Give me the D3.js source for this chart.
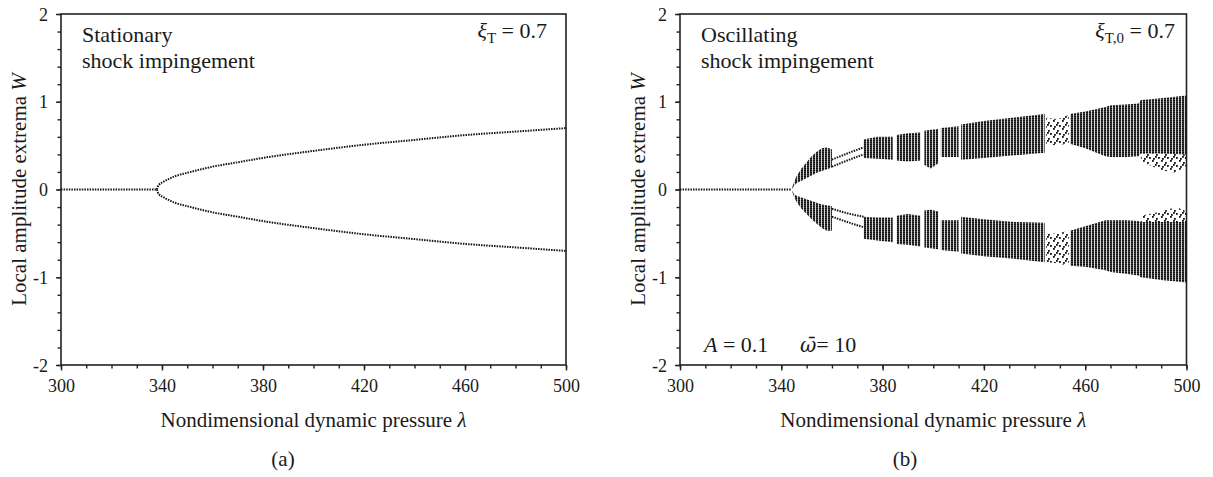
<!DOCTYPE html>
<html>
<head>
<meta charset="utf-8">
<script src="https://cdn.jsdelivr.net/npm/d3@7"></script>
<style>
  html, body { margin: 0; padding: 0; background: #fff; }
  svg { display: block; }
  svg text { font-family: "Liberation Serif", "DejaVu Serif", serif; fill: #1a1a1a; }
</style>
</head>
<body>
<svg id="chart" width="1213" height="477" font-family="Liberation Serif, serif"></svg>
<script>
// ---------------- DATA ----------------
const xTicksMajor = [300, 340, 380, 420, 460, 500];
const yTicksMajor = [-2, -1, 0, 1, 2];

// (a) stationary shock impingement
const statZeroLambda = [300, 338];
const statZeroW = [0, 0];
const statLambda = [338, 338.3, 339, 340, 342, 345, 350, 360, 370, 380, 400, 420, 440, 460, 480, 500];
const statUpper = [0, 0.03, 0.06, 0.08, 0.11, 0.15, 0.19, 0.26, 0.31, 0.36, 0.44, 0.51, 0.565, 0.62, 0.66, 0.70];
const statLower = [0, -0.03, -0.06, -0.08, -0.11, -0.15, -0.19, -0.26, -0.31, -0.36, -0.44, -0.51, -0.565, -0.62, -0.66, -0.70];

// (b) oscillating shock impingement
const oscZeroLambda = [300, 344];
const oscZeroW = [0, 0];
const bandLambda = [344, 345, 346, 348, 350, 352, 354, 356, 358, 360, 361,
  372.5, 378, 384, 385, 385.5, 390, 395, 395.8, 396.5, 399, 402, 402.5,
  403, 410, 410.5, 411, 420, 432, 444, 444.5,
  454, 460, 468, 470, 476, 481, 482, 490, 500];
const upperTop = [0, 0.08, 0.15, 0.24, 0.31, 0.38, 0.43, 0.47, 0.48, 0.46, null,
  0.57, 0.60, 0.60, null, 0.62, 0.64, 0.65, null, 0.67, 0.68, 0.69, null,
  0.70, 0.72, null, 0.74, 0.78, 0.82, 0.86, null,
  0.86, 0.89, 0.94, 0.96, 0.97, 0.98, 1.02, 1.04, 1.07];
const upperBottom = [0, 0.04, 0.07, 0.10, 0.13, 0.16, 0.19, 0.21, 0.23, 0.25, null,
  0.36, 0.35, 0.34, null, 0.33, 0.32, 0.33, null, 0.28, 0.24, 0.30, null,
  0.37, 0.37, null, 0.34, 0.36, 0.39, 0.42, null,
  0.52, 0.47, 0.38, 0.37, 0.37, 0.38, 0.41, 0.41, 0.40];
const lowerTop = [0, -0.05, -0.07, -0.09, -0.11, -0.13, -0.15, -0.17, -0.18, -0.19, null,
  -0.31, -0.32, -0.32, null, -0.30, -0.28, -0.30, null, -0.24, -0.23, -0.25, null,
  -0.35, -0.35, null, -0.31, -0.34, -0.37, -0.38, null,
  -0.47, -0.42, -0.35, -0.35, -0.35, -0.36, -0.37, -0.37, -0.37];
const lowerBottom = [0, -0.08, -0.14, -0.22, -0.28, -0.34, -0.39, -0.44, -0.47, -0.47, null,
  -0.56, -0.58, -0.60, null, -0.62, -0.63, -0.65, null, -0.66, -0.67, -0.68, null,
  -0.69, -0.71, null, -0.73, -0.76, -0.79, -0.83, null,
  -0.87, -0.88, -0.92, -0.94, -0.96, -0.98, -1.00, -1.03, -1.06];

// sparse (scattered) regions
const sparseLambda = [444.5, 449, 453.5, 454, 482, 490, 496, 500];
const sparseUpTop = [0.82, 0.80, 0.85, null, 0.41, 0.41, 0.41, 0.40];
const sparseUpBottom = [0.52, 0.50, 0.53, null, 0.32, 0.22, 0.19, 0.27];
const sparseLowTop = [-0.50, -0.50, -0.47, null, -0.30, -0.25, -0.20, -0.25];
const sparseLowBottom = [-0.83, -0.84, -0.87, null, -0.37, -0.37, -0.37, -0.37];

// thin period-doubling branches between the first chaotic bubble and the main band
const branchLambda = [360, 366, 372.5];
const branchUp1 = [0.34, 0.41, 0.48];
const branchUp2 = [0.26, 0.33, 0.40];
const branchLow1 = [-0.22, -0.27, -0.31];
const branchLow2 = [-0.31, -0.37, -0.43];

// ---------------- DRAW ----------------
const FONT = "Liberation Serif, DejaVu Serif, serif";
const svg = d3.select("#chart");
const defs = svg.append("defs");
const dense = defs.append("pattern").attr("id", "dense").attr("patternUnits", "userSpaceOnUse")
  .attr("width", 3).attr("height", 2);
dense.append("rect").attr("x", 0).attr("y", 0).attr("width", 2.2).attr("height", 1.8).attr("fill", "#111");
const sparse = defs.append("pattern").attr("id", "sparse").attr("patternUnits", "userSpaceOnUse")
  .attr("width", 9).attr("height", 8);
[[0, 0], [4, 2], [6, 5], [1, 6], [3, 4]].forEach(p => {
  sparse.append("rect").attr("x", p[0]).attr("y", p[1]).attr("width", 1.8).attr("height", 1.8).attr("fill", "#111");
});

const yScale = d3.scaleLinear().domain([-2, 2]).range([365, 14]);

function zip(xs, ys) { return xs.map((x, i) => ({ x: x, y: ys[i] })); }
function zip2(xs, a, b) { return xs.map((x, i) => ({ x: x, hi: a[i], lo: b[i] })); }

function panel(x0, x1, yTitleX, letterX, letter) {
  const x = d3.scaleLinear().domain([300, 500]).range([x0, x1]);
  const g = svg.append("g");

  // minor ticks
  g.append("g").attr("transform", `translate(0,${yScale(-2)})`)
    .call(d3.axisBottom(x).tickValues(d3.range(300, 501, 10)).tickSize(3.5).tickSizeOuter(0).tickFormat(""))
    .call(s => s.select(".domain").remove());
  g.append("g").attr("transform", `translate(${x0},0)`)
    .call(d3.axisLeft(yScale).tickValues(d3.range(-20, 21, 2).map(v => v / 10)).tickSize(3.5).tickSizeOuter(0).tickFormat(""))
    .call(s => s.select(".domain").remove());
  // major ticks
  g.append("g").attr("transform", `translate(0,${yScale(-2)})`)
    .call(d3.axisBottom(x).tickValues(xTicksMajor).tickSize(5.5).tickSizeOuter(0).tickPadding(9).tickFormat(d => String(d)));
  const ya = g.append("g").attr("transform", `translate(${x0},0)`)
    .call(d3.axisLeft(yScale).tickValues(yTicksMajor).tickSize(5).tickSizeOuter(0).tickPadding(8).tickFormat(d => String(d)));
  g.selectAll("g").attr("font-family", FONT);
  g.selectAll(".tick line").attr("stroke", "#222").attr("stroke-width", 1.4);
  g.selectAll(".domain").remove();
  g.selectAll(".tick text").attr("font-family", FONT).attr("font-size", 18).attr("fill", "#1a1a1a");
  ya.selectAll(".tick text").attr("dy", "0.34em");

  // frame
  g.append("rect").attr("x", x0).attr("y", yScale(2)).attr("width", x1 - x0).attr("height", yScale(-2) - yScale(2))
    .attr("fill", "none").attr("stroke", "#222").attr("stroke-width", 1.6);

  // titles
  const xt = g.append("text").attr("x", (x0 + x1) / 2).attr("y", 427).attr("text-anchor", "middle")
    .attr("font-family", FONT).attr("font-size", 21);
  xt.append("tspan").text("Nondimensional dynamic pressure ");
  xt.append("tspan").attr("font-style", "italic").text("λ");
  const yt = g.append("text").attr("transform", `translate(${yTitleX},${yScale(0)}) rotate(-90)`)
    .attr("text-anchor", "middle").attr("font-family", FONT).attr("font-size", 21);
  yt.append("tspan").text("Local amplitude extrema ");
  yt.append("tspan").attr("font-style", "italic").text("W");
  g.append("text").attr("x", letterX).attr("y", 466).attr("text-anchor", "middle")
    .attr("font-family", FONT).attr("font-size", 21).text(letter);
  return { g, x };
}

function label(g, x, y, anchor) {
  return g.append("text").attr("x", x).attr("y", y).attr("text-anchor", anchor || "start")
    .attr("font-family", FONT).attr("font-size", 22);
}

// ----- panel (a) -----
const pa = panel(61, 566, 26, 283, "(a)");
const lineA = d3.line().x(d => pa.x(d.x)).y(d => yScale(d.y)).curve(d3.curveMonotoneX);
const dotStyle = s => s.attr("fill", "none").attr("stroke", "#151515").attr("stroke-width", 2).attr("stroke-dasharray", "1.5 1.1");
pa.g.append("path").datum(zip(statZeroLambda, statZeroW)).attr("d", lineA).call(dotStyle);
pa.g.append("path").datum(zip(statLambda, statUpper)).attr("d", lineA).call(dotStyle);
pa.g.append("path").datum(zip(statLambda, statLower)).attr("d", lineA).call(dotStyle);

label(pa.g, 82, 42).text("Stationary");
label(pa.g, 82, 68).text("shock impingement");
let t = label(pa.g, 547, 38, "end");
t.append("tspan").attr("font-style", "italic").text("ξ");
t.append("tspan").attr("font-size", 15).attr("dy", 5).text("T");
t.append("tspan").attr("dy", -5).text(" = 0.7");

// ----- panel (b) -----
const pb = panel(680, 1186.5, 645, 905, "(b)");
const lineB = d3.line().x(d => pb.x(d.x)).y(d => yScale(d.y));
pb.g.append("path").datum(zip(oscZeroLambda, oscZeroW)).attr("d", lineB).call(dotStyle);

const areaB = d3.area().defined(d => d.hi != null && d.lo != null)
  .x(d => pb.x(d.x)).y0(d => yScale(d.lo)).y1(d => yScale(d.hi));
pb.g.append("path").datum(zip2(bandLambda, upperTop, upperBottom)).attr("d", areaB).attr("fill", "url(#dense)");
pb.g.append("path").datum(zip2(bandLambda, lowerTop, lowerBottom)).attr("d", areaB).attr("fill", "url(#dense)");
pb.g.append("path").datum(zip2(sparseLambda, sparseUpTop, sparseUpBottom)).attr("d", areaB).attr("fill", "url(#sparse)");
pb.g.append("path").datum(zip2(sparseLambda, sparseLowTop, sparseLowBottom)).attr("d", areaB).attr("fill", "url(#sparse)");
const lineBr = d3.line().x(d => pb.x(d.x)).y(d => yScale(d.y)).curve(d3.curveMonotoneX);
[branchUp1, branchUp2, branchLow1, branchLow2].forEach(b => {
  pb.g.append("path").datum(zip(branchLambda, b)).attr("d", lineBr).call(dotStyle);
});

label(pb.g, 701, 42).text("Oscillating");
label(pb.g, 701, 68).text("shock impingement");
t = label(pb.g, 1175, 38, "end");
t.append("tspan").attr("font-style", "italic").text("ξ");
t.append("tspan").attr("font-size", 15).attr("dy", 5).text("T,0");
t.append("tspan").attr("dy", -5).text(" = 0.7");
t = label(pb.g, 704, 352);
t.append("tspan").attr("font-style", "italic").text("A");
t.append("tspan").text(" = 0.1");
t = label(pb.g, 800, 352);
t.append("tspan").attr("font-style", "italic").attr("font-family", "DejaVu Serif").attr("font-size", 20).text("ω\u0304");
t.append("tspan").text("= 10");
</script>
</body>
</html>
